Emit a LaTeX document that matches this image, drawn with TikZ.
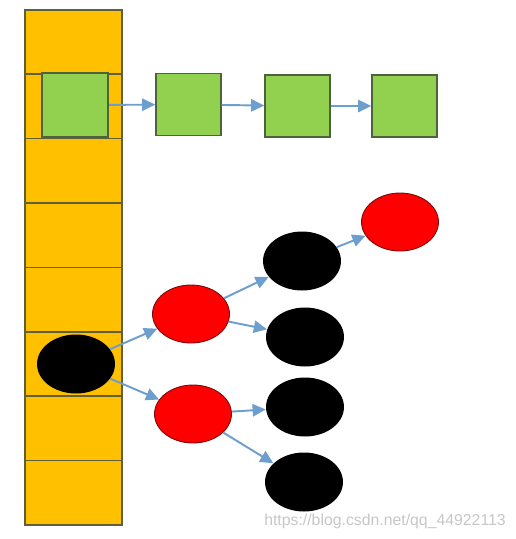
\documentclass[tikz,border=0pt]{standalone}
\usepackage{fontspec}
\usepackage{tikz}
\usetikzlibrary{arrows.meta,shapes.geometric,calc}
\newfontfamily\markfont{Liberation Sans}
\definecolor{slotfill}{RGB}{255,192,0}
\definecolor{slotline}{RGB}{96,96,56}
\definecolor{listfill}{RGB}{146,208,80}
\definecolor{listline}{RGB}{78,98,60}
\definecolor{redfill}{RGB}{255,0,0}
\definecolor{redline}{RGB}{120,10,10}
\definecolor{linkcol}{RGB}{108,158,206}

\begin{document}
\begin{tikzpicture}[x=0.02cm,y=-0.02cm,
    slot/.style={draw=slotline,fill=slotfill,line width=0.9pt,inner sep=0pt,
      anchor=north west,minimum width=1.94cm,minimum height=1.288cm},
    listbox/.style={draw=listline,fill=listfill,line width=0.8pt,inner sep=0pt,
      minimum width=1.3cm,minimum height=1.24cm},
    rednode/.style={ellipse,draw=redline,fill=redfill,line width=0.5pt,inner sep=0pt,
      minimum width=1.54cm,minimum height=1.16cm},
    blacknode/.style={ellipse,fill=black,inner sep=0pt,
      minimum width=1.56cm,minimum height=1.18cm},
    link/.style={draw=linkcol,line width=1.1pt,-{Triangle[length=7.5pt,width=7pt]}}]

    \useasboundingbox (0,0) rectangle (516,539);

    \foreach \k [evaluate=\k as \t using {9+64.4*\k}] in {0, ..., 7} {
      \node[slot] (S\k) at (24,\t) {};
    }

    \node[listbox,line width=1.3pt,minimum width=1.32cm,minimum height=1.29cm] (G0) at (75,105) {};
    \node[listbox] (G1) at (188.5,104.5) {};
    \node[listbox] (G2) at (297.5,106) {};
    \node[listbox] (G3) at (404.5,106) {};
    \foreach \i [evaluate=\i as \j using {int(\i+1)}] in {0, ..., 2} {
      \draw[link] (G\i) -- (G\j);
    }

    \node[blacknode] (B0) at (76,364) {};
    \node[rednode] (R1) at (191,314) {};
    \node[rednode] (R2) at (193,414) {};
    \node[blacknode] (B1) at (302,261) {};
    \node[blacknode] (B2) at (305,337) {};
    \node[blacknode] (B3) at (305,407) {};
    \node[blacknode] (B4) at (304,482) {};
    \node[rednode] (R3) at (400,222) {};

    \draw[link] (B0) -- (R1);
    \draw[link] (B0) -- (R2);
    \draw[link] (R1) -- (B1);
    \draw[link] (R1) -- (B2);
    \draw[link] (R2) -- (B3);
    \draw[link] (R2) -- (B4);
    \draw[link] (B1) -- (R3);

    \node[text=black!22,font=\markfont\fontsize{9}{11}\selectfont] (W) at (385,521) {https://blog.csdn.net/qq\_44922113};

  \end{tikzpicture}
\end{document}
